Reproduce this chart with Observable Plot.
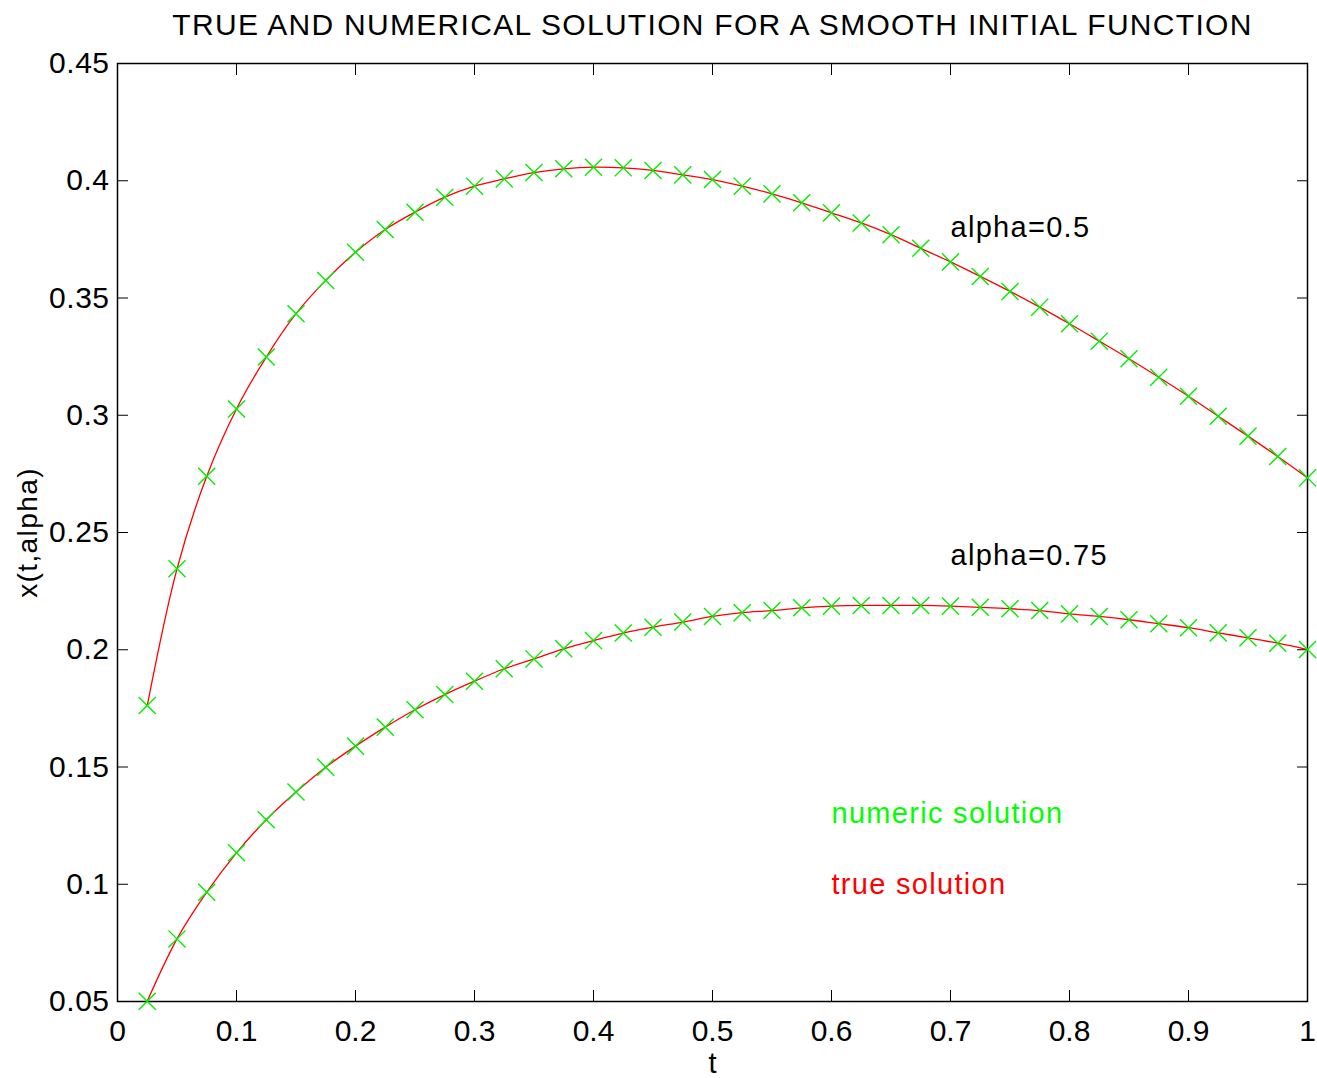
<!DOCTYPE html>
<html>
<head>
<meta charset="utf-8">
<script src="https://cdn.jsdelivr.net/npm/d3@7"></script>
<script src="https://cdn.jsdelivr.net/npm/@observablehq/plot@0.6"></script>
<style>
  html, body { margin: 0; padding: 0; background: #fff; overflow: hidden; }
  #chart svg { display: block; }
  .chart-title text { letter-spacing: 1.3px; }
  .note text { letter-spacing: 1.3px; }
  .ylabel text { letter-spacing: 1.4px; }
  .ytick-label text { letter-spacing: 0.5px; }
</style>
</head>
<body>
<div id="chart"></div>
<script>
// Time grid of the numerical scheme
const tValues = [
  0.025, 0.05, 0.075, 0.1, 0.125, 0.15, 0.175, 0.2, 0.225, 0.25,
  0.275, 0.3, 0.325, 0.35, 0.375, 0.4, 0.425, 0.45, 0.475, 0.5,
  0.525, 0.55, 0.575, 0.6, 0.625, 0.65, 0.675, 0.7, 0.725, 0.75,
  0.775, 0.8, 0.825, 0.85, 0.875, 0.9, 0.925, 0.95, 0.975, 1.0
];

// x(t, alpha) for alpha = 0.5
const xAlpha05 = [
  0.1762, 0.2345, 0.2740, 0.3027, 0.3248, 0.3433, 0.3575, 0.3695, 0.3792, 0.3866,
  0.3930, 0.3977, 0.4008, 0.4035, 0.4051, 0.4058, 0.4055, 0.4044, 0.4025, 0.4005,
  0.3977, 0.3944, 0.3906, 0.3863, 0.3820, 0.3770, 0.3712, 0.3654, 0.3592, 0.3528,
  0.3461, 0.3390, 0.3316, 0.3241, 0.3162, 0.3081, 0.2996, 0.2911, 0.2824, 0.2733
];

// x(t, alpha) for alpha = 0.75
const xAlpha075 = [
  0.0501, 0.0767, 0.0966, 0.1134, 0.1275, 0.1393, 0.1499, 0.1589, 0.1670, 0.1744,
  0.1809, 0.1866, 0.1919, 0.1961, 0.2004, 0.2039, 0.2071, 0.2096, 0.2118, 0.2142,
  0.2158, 0.2167, 0.2179, 0.2186, 0.2189, 0.2189, 0.2189, 0.2186, 0.2181, 0.2175,
  0.2167, 0.2153, 0.2142, 0.2128, 0.2111, 0.2094, 0.2072, 0.2051, 0.2028, 0.2001
];

const xTicks = [0, 0.1, 0.2, 0.3, 0.4, 0.5, 0.6, 0.7, 0.8, 0.9, 1];
const yTicks = [0.05, 0.1, 0.15, 0.2, 0.25, 0.3, 0.35, 0.4, 0.45];

// In-plot annotations
const noteT = [0.7, 0.7, 0.6, 0.6];
const noteV = [0.38, 0.24, 0.13, 0.1];
const noteText = ["alpha=0.5", "alpha=0.75", "numeric solution", "true solution"];
const noteColor = ["black", "black", "#00ff00", "#ff0000"];

const rows = [
  ...tValues.map((t, i) => ({t, v: xAlpha05[i], alpha: "0.5"})),
  ...tValues.map((t, i) => ({t, v: xAlpha075[i], alpha: "0.75"}))
];
const notes = noteText.map((text, i) => ({t: noteT[i], v: noteV[i], text, color: noteColor[i]}));

const FONT = "'Liberation Sans', Arial, Helvetica, sans-serif";
const TICK = 11;
const fmt = d3.format("~g");

const chart = Plot.plot({
  width: 1317,
  height: 1078,
  marginLeft: 117,
  marginRight: 10,
  marginTop: 63,
  marginBottom: 77,
  style: {fontFamily: FONT, background: "white", color: "black"},
  x: {domain: [0, 1]},
  y: {domain: [0.05, 0.45]},
  marks: [
    // tick labels
    Plot.axisX(xTicks, {anchor: "bottom", tickSize: 0, tickPadding: 18, fontSize: 30, tickFormat: fmt, label: null}),
    Plot.axisY(yTicks, {anchor: "left", tickSize: 0, tickPadding: 8, fontSize: 30, tickFormat: fmt, label: null, className: "ytick-label"}),
    // inward ticks on all four sides
    Plot.axisX(xTicks, {anchor: "bottom", tickSize: TICK, dy: -TICK, text: null, label: null, strokeWidth: 1}),
    Plot.axisX(xTicks, {anchor: "top", tickSize: TICK, dy: TICK, text: null, label: null, strokeWidth: 1}),
    Plot.axisY(yTicks, {anchor: "left", tickSize: TICK, dx: TICK, text: null, label: null, strokeWidth: 1}),
    Plot.axisY(yTicks, {anchor: "right", tickSize: TICK, dx: -TICK, text: null, label: null, strokeWidth: 1}),
    Plot.frame({stroke: "black", strokeWidth: 1.5}),
    // true solution
    Plot.line(rows, {x: "t", y: "v", z: "alpha", stroke: "#ff0000", strokeWidth: 1.3, curve: "catmull-rom"}),
    // numeric solution
    Plot.dot(rows, {x: "t", y: "v", symbol: "times", r: 7.8, stroke: "#00ee00", strokeWidth: 1.4}),
    // annotations
    Plot.text(notes, {x: "t", y: "v", text: "text", fill: "color", textAnchor: "start", lineAnchor: "middle", fontSize: 29, className: "note"}),
    // title and axis names
    Plot.text(["TRUE AND NUMERICAL SOLUTION FOR A SMOOTH INITIAL FUNCTION"], {
      frameAnchor: "top", dy: -38, lineAnchor: "middle", textAnchor: "middle", fontSize: 30, fill: "black", className: "chart-title"
    }),
    Plot.text(["t"], {frameAnchor: "bottom", dy: 62, lineAnchor: "middle", textAnchor: "middle", fontSize: 29, fill: "black"}),
    Plot.text(["x(t,alpha)"], {frameAnchor: "left", dx: -89, rotate: -90, lineAnchor: "middle", textAnchor: "middle", fontSize: 28, fill: "black", className: "ylabel"})
  ]
});

document.getElementById("chart").appendChild(chart);
</script>
</body>
</html>
